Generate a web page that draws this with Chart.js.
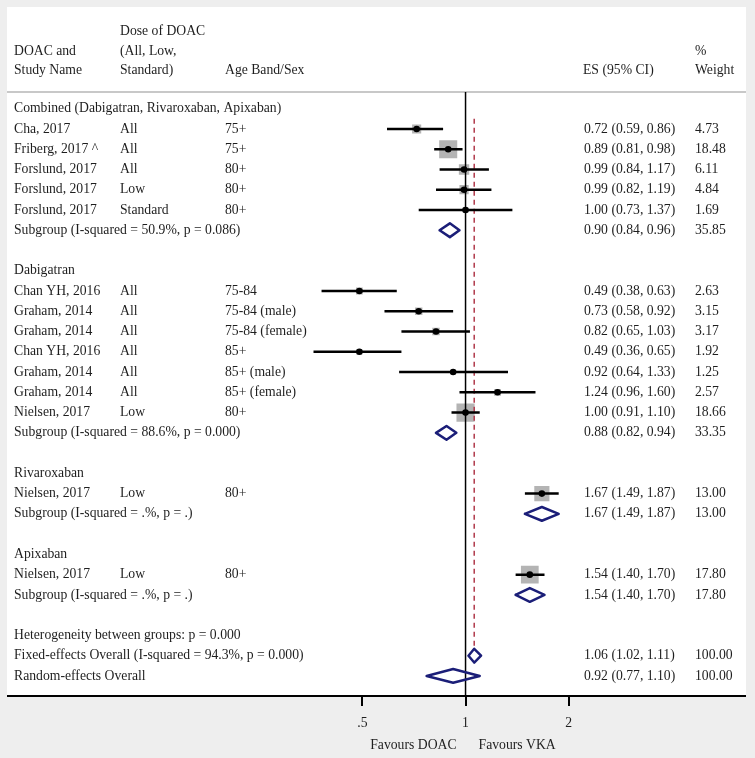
<!DOCTYPE html>
<html>
<head>
<meta charset="utf-8">
<script src="https://cdn.jsdelivr.net/npm/chart.js@4.4.1/dist/chart.umd.min.js"></script>
<style>
  html, body { margin: 0; padding: 0; background: #eeeeee; }
  #wrap { width: 755px; height: 758px; }
</style>
</head>
<body>
<div id="wrap"><canvas id="chart"></canvas></div>
<script>
// one entry per row of the forest plot, top to bottom
const labels = [
    'Combined (Dabigatran, Rivaroxaban, Apixaban)',
    'Cha, 2017', 'Friberg, 2017 ^', 'Forslund, 2017', 'Forslund, 2017', 'Forslund, 2017',
    'Subgroup (I-squared = 50.9%, p = 0.086)',
    '',
    'Dabigatran',
    'Chan YH, 2016', 'Graham, 2014', 'Graham, 2014', 'Chan YH, 2016', 'Graham, 2014', 'Graham, 2014', 'Nielsen, 2017',
    'Subgroup (I-squared = 88.6%, p = 0.000)',
    '',
    'Rivaroxaban',
    'Nielsen, 2017',
    'Subgroup (I-squared = .%, p = .)',
    '',
    'Apixaban',
    'Nielsen, 2017',
    'Subgroup (I-squared = .%, p = .)',
    '',
    'Heterogeneity between groups: p = 0.000',
    'Fixed-effects Overall (I-squared = 94.3%, p = 0.000)',
    'Random-effects Overall'
];
const kinds = [
    'group', 'study', 'study', 'study', 'study', 'study', 'sub', 'blank',
    'group', 'study', 'study', 'study', 'study', 'study', 'study', 'study', 'sub', 'blank',
    'group', 'study', 'sub', 'blank',
    'group', 'study', 'sub', 'blank',
    'note', 'overall', 'overall'
];
const doses = [
    '', 'All', 'All', 'All', 'Low', 'Standard', '', '',
    '', 'All', 'All', 'All', 'All', 'All', 'All', 'Low', '', '',
    '', 'Low', '', '',
    '', 'Low', '', '',
    '', '', ''
];
const ages = [
    '', '75+', '75+', '80+', '80+', '80+', '', '',
    '', '75-84', '75-84 (male)', '75-84 (female)', '85+', '85+ (male)', '85+ (female)', '80+', '', '',
    '', '80+', '', '',
    '', '80+', '', '',
    '', '', ''
];
const es = [
    null, 0.72, 0.89, 0.99, 0.99, 1.00, 0.90, null,
    null, 0.49, 0.73, 0.82, 0.49, 0.92, 1.24, 1.00, 0.88, null,
    null, 1.67, 1.67, null,
    null, 1.54, 1.54, null,
    null, 1.06, 0.92
];
const lo = [
    null, 0.59, 0.81, 0.84, 0.82, 0.73, 0.84, null,
    null, 0.38, 0.58, 0.65, 0.36, 0.64, 0.96, 0.91, 0.82, null,
    null, 1.49, 1.49, null,
    null, 1.40, 1.40, null,
    null, 1.02, 0.77
];
const hi = [
    null, 0.86, 0.98, 1.17, 1.19, 1.37, 0.96, null,
    null, 0.63, 0.92, 1.03, 0.65, 1.33, 1.60, 1.10, 0.94, null,
    null, 1.87, 1.87, null,
    null, 1.70, 1.70, null,
    null, 1.11, 1.10
];
const weights = [
    null, 4.73, 18.48, 6.11, 4.84, 1.69, 35.85, null,
    null, 2.63, 3.15, 3.17, 1.92, 1.25, 2.57, 18.66, 33.35, null,
    null, 13.00, 13.00, null,
    null, 17.80, 17.80, null,
    null, 100.00, 100.00
];
const xTicks = [0.5, 1, 2];
const xTickLabels = ['.5', '1', '2'];
const fixedRow = 27;

const FONT = '13.7px "Liberation Serif", "Times New Roman", serif';
const TEXT = '#1e1e1e';
const yMin = -0.824, yMax = 28.99;
const gap = { x: NaN, y: NaN };

const squares = [], dots = [], ciLines = [], diamonds = [];
kinds.forEach((k, r) => {
    if (k === 'study') {
        squares.push({ x: es[r], y: r, w: weights[r] });
        dots.push({ x: es[r], y: r });
        ciLines.push({ x: lo[r], y: r }, { x: hi[r], y: r }, gap);
    } else if (k === 'sub' || k === 'overall') {
        const h = 0.34;
        diamonds.push({ x: lo[r], y: r }, { x: es[r], y: r - h }, { x: hi[r], y: r },
                      { x: es[r], y: r + h }, { x: lo[r], y: r }, gap);
    }
});

const panel = {
    id: 'panel',
    beforeDraw(chart) {
        const ctx = chart.ctx;
        ctx.save();
        ctx.fillStyle = '#eeeeee';
        ctx.fillRect(0, 0, chart.width, chart.height);
        ctx.fillStyle = '#ffffff';
        ctx.fillRect(7, 7, 739, 689);
        ctx.strokeStyle = '#c8c8c8';
        ctx.lineWidth = 2;
        ctx.beginPath();
        ctx.moveTo(7, 92);
        ctx.lineTo(746, 92);
        ctx.stroke();
        ctx.restore();
    },
    afterDraw(chart) {
        const ctx = chart.ctx;
        const y = chart.scales.y, x = chart.scales.x;
        ctx.save();
        // axis line across the whole panel
        ctx.strokeStyle = '#000';
        ctx.lineWidth = 2;
        ctx.beginPath();
        ctx.moveTo(7, 696);
        ctx.lineTo(746, 696);
        ctx.stroke();

        ctx.font = FONT;
        ctx.fillStyle = TEXT;
        ctx.textBaseline = 'middle';
        ctx.textAlign = 'left';

        // column headers
        ctx.fillText('Dose of DOAC', 120, 31);
        ctx.fillText('DOAC and', 14, 51);
        ctx.fillText('(All, Low,', 120, 51);
        ctx.fillText('%', 695, 51);
        ctx.fillText('Study Name', 14, 70);
        ctx.fillText('Standard)', 120, 70);
        ctx.fillText('Age Band/Sex', 225, 70);
        ctx.fillText('ES (95% CI)', 583, 70);
        ctx.fillText('Weight', 695, 70);

        labels.forEach((lab, r) => {
            const py = y.getPixelForValue(r);
            if (lab) ctx.fillText(lab, 14, py);
            if (doses[r]) ctx.fillText(doses[r], 120, py);
            if (ages[r]) ctx.fillText(ages[r], 225, py);
            if (es[r] !== null) {
                ctx.fillText(es[r].toFixed(2) + ' (' + lo[r].toFixed(2) + ', ' + hi[r].toFixed(2) + ')', 584, py);
                ctx.fillText(weights[r].toFixed(2), 695, py);
            }
        });

        const one = x.getPixelForValue(1);
        ctx.textAlign = 'right';
        ctx.fillText('Favours DOAC', one - 9, 745);
        ctx.textAlign = 'left';
        ctx.fillText('Favours VKA', one + 13, 745);
        ctx.restore();
    }
};

const ctx = document.getElementById('chart').getContext('2d');
const chart = new Chart(ctx, {
    type: 'scatter',
    data: {
        datasets: [
            {
                label: 'estimate',
                data: dots,
                pointStyle: 'circle',
                pointRadius: 3.3,
                backgroundColor: '#000',
                borderWidth: 0,
                order: 1
            },
            {
                label: 'pooled',
                data: diamonds,
                showLine: true,
                pointRadius: 0,
                borderColor: '#1b1e78',
                borderWidth: 2.5,
                borderJoinStyle: 'round',
                borderCapStyle: 'round',
                spanGaps: false,
                order: 2
            },
            {
                label: 'ci',
                data: ciLines,
                showLine: true,
                pointRadius: 0,
                borderColor: '#000',
                borderWidth: 2.5,
                spanGaps: false,
                order: 3
            },
            {
                label: 'null',
                data: [{ x: 1, y: yMin }, { x: 1, y: yMax }],
                showLine: true,
                pointRadius: 0,
                borderColor: '#000',
                borderWidth: 1.5,
                order: 4
            },
            {
                label: 'overall',
                data: [{ x: es[fixedRow], y: 0.5 }, { x: es[fixedRow], y: fixedRow - 0.34 }],
                showLine: true,
                pointRadius: 0,
                borderColor: '#b0394a',
                borderWidth: 1.5,
                borderDash: [5, 4],
                order: 4
            },
            {
                label: 'weight',
                data: squares,
                pointStyle: 'rect',
                pointRadius: c => (c.raw && c.raw.w ? 4.2 * Math.sqrt(c.raw.w) / 1.414 : 0),
                backgroundColor: '#b4b4b4',
                borderWidth: 0,
                order: 5
            }
        ]
    },
    options: {
        responsive: true,
        maintainAspectRatio: false,
        animation: false,
        events: [],
        layout: { padding: { left: 7, right: 9, top: 92, bottom: 0 } },
        plugins: {
            legend: { display: false },
            tooltip: { enabled: false }
        },
        scales: {
            x: {
                type: 'logarithmic',
                min: 0.04774,
                max: 6.416,
                bounds: 'data',
                afterBuildTicks: s => { s.ticks = xTicks.map(v => ({ value: v })); },
                afterFit: s => { s.height = 62; },
                border: { display: false },
                grid: { drawOnChartArea: false, drawTicks: true, tickLength: 10, color: '#000', lineWidth: 2 },
                ticks: {
                    autoSkip: false,
                    maxRotation: 0,
                    padding: 9,
                    color: TEXT,
                    font: { family: '"Liberation Serif", serif', size: 13.7 },
                    callback: (v, i) => xTickLabels[i]
                }
            },
            y: {
                type: 'linear',
                reverse: true,
                min: yMin,
                max: yMax,
                display: false
            }
        }
    },
    plugins: [panel]
});
</script>
</body>
</html>
